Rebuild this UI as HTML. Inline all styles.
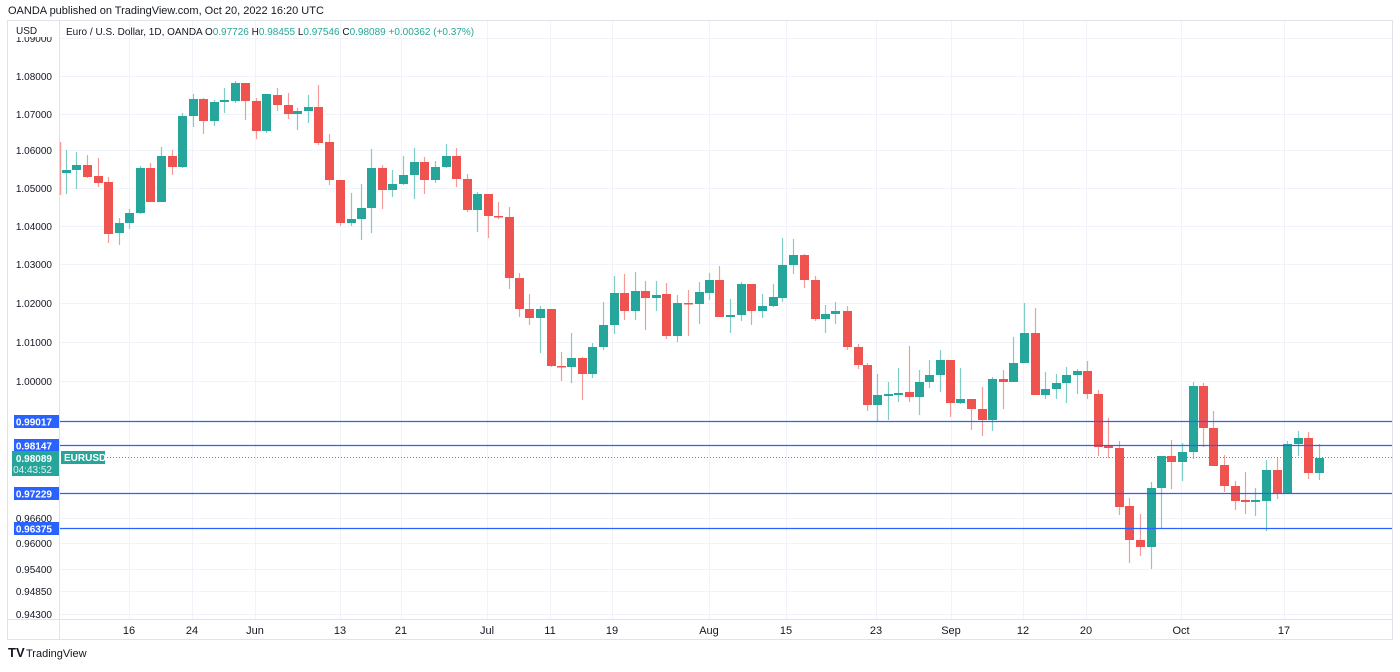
<!DOCTYPE html>
<html><head><meta charset="utf-8">
<style>
body{margin:0;background:#fff;width:1400px;height:667px;overflow:hidden;font-family:"Liberation Sans",sans-serif;}
svg text{font-family:"Liberation Sans",sans-serif;}
</style></head><body>
<svg id="s" width="1400" height="667" xmlns="http://www.w3.org/2000/svg">
<defs><clipPath id="ax"><rect x="0" y="37" width="60" height="600"/></clipPath></defs>
<rect width="1400" height="667" fill="#fff"/>
<text x="8" y="14" font-size="11" fill="#131722">OANDA published on TradingView.com, Oct 20, 2022 16:20 UTC</text>
<g id="grid" stroke="#f0f3fa" stroke-width="1"></g>
<rect x="7.5" y="20.5" width="1385" height="619" fill="none" stroke="#e0e3eb"/>
<line x1="59.5" y1="20" x2="59.5" y2="640" stroke="#e0e3eb"/>
<line x1="8" y1="619.5" x2="1392" y2="619.5" stroke="#e0e3eb"/>
<g id="c"></g>
<g id="lines"></g>
<g id="tick" clip-path="url(#ax)"></g>
<text x="16" y="34" font-size="10" fill="#131722">USD</text>
<text x="66" y="35" font-size="10" fill="#131722">Euro / U.S. Dollar, 1D, OANDA  <tspan>O</tspan><tspan fill="#26a69a">0.97726</tspan>   <tspan>H</tspan><tspan fill="#26a69a">0.98455</tspan>   <tspan>L</tspan><tspan fill="#26a69a">0.97546</tspan>   <tspan>C</tspan><tspan fill="#26a69a">0.98089   +0.00362 (+0.37%)</tspan></text>
<g id="lbl"></g>
<text x="8" y="657" font-size="13" font-weight="bold" fill="#131722">TV</text>
<text x="26" y="657" font-size="11" fill="#131722">TradingView</text>
</svg>
<script>
const NS="http://www.w3.org/2000/svg";
function el(p,t,a,txt){const e=document.createElementNS(NS,t);for(const k in a)e.setAttribute(k,a[k]);if(txt!==undefined)e.textContent=txt;document.getElementById(p).appendChild(e);return e;}
const py=[[1.09,38],[1.08,76],[1.07,114],[1.06,150],[1.05,188],[1.04,226],[1.03,264],[1.02,303],[1.01,342],[1.00,381],[0.966,518],[0.96,543],[0.954,569],[0.9485,591],[0.943,614]];
py.forEach(([p,y])=>{el("grid","line",{x1:60,x2:1392,y1:y+.5,y2:y+.5});});
const dx=[[129,"16"],[192,"24"],[255,"Jun"],[340,"13"],[401,"21"],[487,"Jul"],[550,"11"],[612,"19"],[709,"Aug"],[786,"15"],[876,"23"],[951,"Sep"],[1023,"12"],[1086,"20"],[1181,"Oct"],[1284,"17"]];
dx.forEach(([x,t])=>{el("grid","line",{x1:x+.5,x2:x+.5,y1:21,y2:619});el("lbl","text",{x:x,y:634,"font-size":11,fill:"#131722","text-anchor":"middle"},t);});
py.forEach(([p,y])=>{el("tick","text",{x:52,y:y+4,"font-size":10,fill:"#131722","text-anchor":"end"},p.toFixed(5));});
const C=[
[62,150,172,142,195,'r'],
[66,170,173,150,194,'g'],[76,165,170,152,189,'g'],[87,165,177,155,178,'r'],[98,176,183,158,187,'r'],[108,182,234,177,243,'r'],[119,223,233,218,245,'g'],[129,213,223,209,229,'g'],[140,168,213,166,214,'g'],[150,168,202,163,202,'r'],[161,156,202,147,202,'g'],[172,156,167,150,175,'r'],[182,116,167,113,168,'g'],[193,99,116,94,127,'g'],[203,99,121,98,134,'r'],[214,102,121,100,126,'g'],[224,100,102,88,113,'g'],[235,83,101,81,103,'g'],[245,83,101,83,120,'r'],[256,101,131,98,139,'r'],[266,94,131,94,133,'g'],[277,95,105,88,111,'r'],
[288,105,114,93,119,'r'],[297,111,114,108,130,'g'],[308,107,111,95,123,'g'],[318,107,143,85,145,'r'],[329,142,180,134,185,'r'],[340,180,223,180,226,'r'],[351,219,223,193,226,'g'],[361,208,219,184,240,'g'],[371,168,208,149,233,'g'],[382,168,190,165,209,'r'],[392,184,190,170,197,'g'],[403,175,184,156,185,'g'],[414,162,175,148,199,'g'],[424,162,180,157,194,'r'],[435,167,180,161,183,'g'],[446,156,167,144,168,'g'],[456,156,179,148,187,'r'],[467,179,210,174,212,'r'],[477,194,210,192,232,'g'],[488,194,216,194,238,'r'],[498,216,217,202,219,'r'],[509,217,278,207,289,'r'],[519,278,309,273,317,'r'],
[529,309,318,294,325,'r'],[540,309,318,306,353,'g'],[551,309,366,309,367,'r'],[561,366,367,352,381,'r'],[571,358,367,333,383,'g'],[582,358,374,357,400,'r'],[592,347,374,343,378,'g'],[603,325,347,302,350,'g'],[614,293,325,276,334,'g'],[624,293,311,274,320,'r'],[635,291,311,272,320,'g'],[645,291,298,281,330,'r'],[656,295,298,281,311,'g'],[666,294,336,283,339,'r'],[677,303,336,295,342,'g'],[688,303,304,290,336,'r'],[699,292,304,282,324,'g'],[709,280,293,273,300,'g'],[719,280,317,266,317,'r'],[730,315,317,299,333,'g'],[741,284,315,282,321,'g'],[751,284,311,284,325,'r'],
[762,306,311,294,318,'g'],[773,297,306,284,307,'g'],[782,265,298,238,302,'g'],[793,255,265,239,274,'g'],[804,255,280,254,288,'r'],[815,280,319,276,321,'r'],[825,314,319,305,333,'g'],[835,311,314,302,324,'g'],[847,311,347,306,350,'r'],[858,347,365,344,369,'r'],[867,365,405,363,411,'r'],[877,395,405,374,421,'g'],[888,394,396,382,420,'g'],[898,393,395,368,402,'g'],[909,392,397,346,402,'r'],[919,382,397,370,415,'g'],[929,375,382,360,388,'g'],[940,360,375,350,392,'g'],[950,360,403,360,417,'r'],[960,399,403,368,404,'g'],[971,399,409,399,430,'r'],[982,409,420,387,436,'r'],
[992,379,420,377,431,'g'],[1003,379,382,370,409,'r'],[1013,363,382,337,382,'g'],[1024,333,363,303,363,'g'],[1035,333,395,308,395,'r'],[1045,389,395,372,399,'g'],[1056,383,389,374,399,'g'],[1066,375,383,367,403,'g'],[1077,371,375,369,394,'g'],[1087,371,394,361,399,'r'],[1098,394,447,390,456,'r'],[1108,446,448,418,458,'r'],[1119,448,507,441,515,'r'],[1129,506,540,498,563,'r'],[1140,540,547,514,556,'r'],[1151,488,547,482,569,'g'],[1161,456,488,456,528,'g'],[1171,456,462,440,489,'r'],
[1182,452,462,443,481,'g'],[1193,386,452,382,459,'g'],[1203,386,428,383,447,'r'],[1213,428,466,411,466,'r'],[1224,465,486,455,492,'r'],[1235,486,501,481,510,'r'],[1245,500,502,472,514,'r'],[1255,500,502,488,516,'g'],[1266,470,501,460,531,'g'],[1277,470,494,458,499,'r'],[1287,444,494,441,494,'g'],[1298,438,444,431,456,'g'],[1308,438,473,432,479,'r'],[1319,458,473,444,480,'g']];
C.forEach(([x,t,b,h,l,c])=>{const col=c=='g'?'#26a69a':'#ef5350';const wc=c=='g'?'#7fcdc4':'#f59c9a';
if(x<64){el("c","line",{x1:60.5,x2:60.5,y1:h,y2:l,stroke:wc,"stroke-width":1.5});return;}
el("c","line",{x1:x+.5,x2:x+.5,y1:h,y2:l,stroke:wc,"stroke-width":1.2});
el("c","rect",{x:x-4,y:t,width:9,height:Math.max(b-t,1.5),fill:col});});
[[421,"0.99017"],[445,"0.98147"],[493,"0.97229"],[528,"0.96375"]].forEach(([y,t])=>{
el("lines","line",{x1:60,x2:1392,y1:y+.5,y2:y+.5,stroke:"#2962ff","stroke-width":1.2});
el("lbl","rect",{x:14,y:y-6,width:45,height:13,fill:"#2962ff"});
el("lbl","text",{x:52,y:y+4.5,"font-size":10,"font-weight":"bold",fill:"#fff","text-anchor":"end"},t);});
el("lines","line",{x1:104,x2:1392,y1:457.5,y2:457.5,stroke:"#26a69a","stroke-width":1,"stroke-dasharray":"1,2"});
el("lbl","rect",{x:12,y:451,width:47,height:25,fill:"#26a69a"});
el("lbl","text",{x:52,y:462,"font-size":10,"font-weight":"bold",fill:"#fff","text-anchor":"end"},"0.98089");
el("lbl","text",{x:52,y:473,"font-size":10,fill:"#e0f2f1","text-anchor":"end"},"04:43:52");
el("lbl","rect",{x:61,y:451,width:44,height:13,fill:"#26a69a"});
el("lbl","text",{x:64,y:461,"font-size":10,"font-weight":"bold",fill:"#fff"},"EURUSD");
</script>
</body></html>
